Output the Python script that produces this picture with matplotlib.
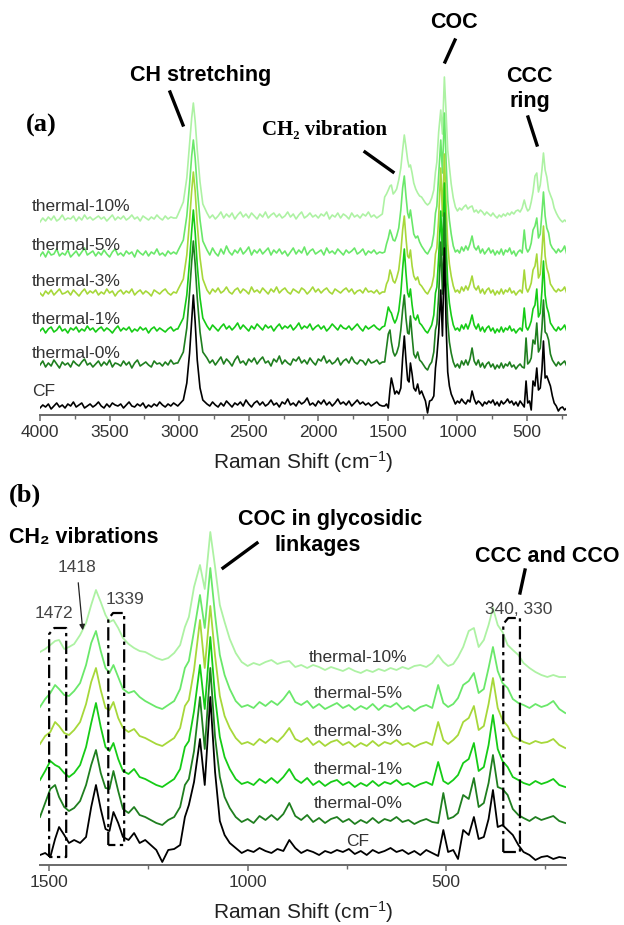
import numpy as np
import matplotlib.pyplot as plt
from matplotlib.lines import Line2D
from matplotlib.patches import FancyArrowPatch

plt.rcParams['font.family'] = ['Liberation Sans', 'DejaVu Sans']
plt.rcParams['mathtext.fontset'] = 'custom'
plt.rcParams['mathtext.rm'] = 'Liberation Sans'
plt.rcParams['mathtext.it'] = 'Liberation Sans:italic'
plt.rcParams['mathtext.bf'] = 'Liberation Sans:bold'

W, H = 624, 925

# ---------------- data ----------------
labels = ['CF', 'thermal-0%', 'thermal-1%', 'thermal-3%', 'thermal-5%', 'thermal-10%']
colors = ['#000000', '#1f7f1f', '#16cc16', '#a6d83a', '#6ae86a', '#adf2a3']

# high wavenumber part (panel a only), cm-1
left_x = list(range(4000, 3010, -20))
peak_x = [3010, 2970, 2945, 2925, 2910, 2898, 2885, 2870, 2850, 2830]
mid_x = list(range(2800, 1530, -20))

cf_left = [0, 3, 1, 4, -1, 2, 5, 1, 3, 0, 4, 2, 6, 1, 3, 5, 0, 2, 4, 1,
           3, 6, 2, 0, 4, 1, 5, 3, 2, 4, 0, 3, 6, 2, 1, 4, 2, 5, 0, 3,
           1, 4, 2, 6, 3, 1, 4, 2, 5, 3]
cf_peak = [2, 8, 25, 55, 88, 113, 86, 48, 20, 8]
cf_mid = [4, 2, 6, 3, 1, 5, 2, 7, 4, 1, 5, 3, 6, 2, 8, 4, 1, 5, 7, 3,
          6, 2, 4, 8, 3, 5, 1, 6, 4, 9, 3, 5, 2, 7, 4, 6, 10, 3, 5, 2,
          7, 4, 8, 3, 6, 2, 5, 9, 4, 6, 3, 7, 2, 5, 8, 4, 6, 3, 5, 2,
          4, 6, 3, 2]

t0_left = [3, 7, 1, 5, 2, 8, 4, 0, 6, 3, 5, 1, 7, 4, 2, 6, 9, 3, 5, 1,
           4, 7, 2, 6, 3, 8, 1, 5, 4, 2, 7, 3, 6, 0, 5, 8, 2, 4, 6, 3,
           1, 7, 4, 5, 2, 6, 3, 8, 4, 5]
t0_peak = [5, 16, 40, 76, 106, 127, 104, 70, 36, 16]
t0_mid = [10, 5, 8, 3, 7, 11, 4, 9, 6, 2, 8, 12, 5, 7, 3, 9, 6, 10, 4, 8,
          11, 5, 7, 2, 9, 6, 12, 4, 8, 5, 3, 9, 7, 11, 5, 8, 4, 10, 6, 3,
          9, 7, 12, 5, 8, 4, 6, 10, 3, 7, 9, 5, 11, 6, 4, 8, 7, 3, 9, 5,
          6, 8, 4, 6]

t1_left = [2, 5, 0, 4, 6, 1, 3, 7, 2, 4, 0, 5, 3, 6, 1, 4, 2, 7, 3, 5,
           1, 4, 6, 2, 5, 3, 0, 4, 7, 2, 5, 3, 6, 1, 4, 2, 6, 3, 5, 0,
           4, 6, 2, 5, 3, 1, 4, 6, 2, 4]
t1_peak = [4, 15, 38, 72, 102, 123, 101, 68, 35, 15]
t1_mid = [7, 3, 8, 5, 2, 6, 9, 4, 7, 3, 6, 10, 4, 8, 5, 2, 7, 4, 9, 6,
          3, 8, 5, 7, 2, 6, 9, 4, 7, 5, 8, 3, 6, 10, 4, 7, 5, 9, 3, 6,
          8, 4, 7, 2, 5, 9, 6, 3, 8, 5, 4, 7, 3, 6, 9, 5, 2, 7, 4, 6,
          8, 5, 3, 6]

t3_left = [3, 0, 5, 2, 6, 1, 4, 7, 2, 3, 5, 1, 6, 3, 0, 4, 7, 2, 5, 3,
           6, 1, 4, 2, 7, 3, 5, 0, 4, 6, 2, 5, 3, 7, 1, 4, 6, 2, 5, 3,
           0, 6, 4, 2, 5, 7, 3, 1, 4, 3]
t3_peak = [6, 17, 41, 76, 105, 124, 105, 72, 38, 17]
t3_mid = [6, 2, 7, 4, 8, 3, 5, 9, 4, 2, 6, 8, 3, 7, 5, 2, 9, 4, 6, 3,
          8, 5, 2, 7, 4, 9, 3, 6, 8, 4, 2, 7, 5, 3, 8, 6, 2, 5, 9, 4,
          7, 3, 6, 8, 4, 2, 7, 5, 3, 6, 8, 4, 7, 2, 5, 6, 3, 8, 4, 5,
          3, 6, 2, 4]

t5_left = [2, 6, 1, 7, 3, 4, 9, 2, 5, 3, 8, 1, 4, 7, 2, 6, 10, 3, 5, 7,
           2, 6, 3, 8, 4, 1, 6, 9, 3, 5, 2, 7, 4, 6, 1, 8, 5, 3, 7, 2,
           6, 4, 9, 3, 5, 2, 7, 4, 6, 4]
t5_peak = [7, 18, 42, 74, 102, 118, 100, 70, 38, 17]
t5_mid = [8, 3, 10, 5, 2, 9, 4, 12, 6, 3, 8, 5, 10, 4, 7, 11, 3, 8, 5, 9,
          4, 7, 10, 3, 8, 5, 9, 4, 7, 2, 6, 10, 4, 8, 5, 11, 3, 7, 9, 4,
          6, 8, 3, 10, 5, 7, 4, 9, 6, 3, 8, 5, 7, 10, 4, 6, 9, 3, 7, 5,
          8, 4, 6, 5]

t10_left = [0, 4, 1, 5, 2, 6, 1, 3, 7, 2, 4, 3, 6, 1, 5, 2, 7, 3, 5, 2,
            4, 6, 3, 5, 1, 4, 7, 2, 5, 3, 6, 2, 4, 7, 3, 5, 1, 6, 4, 2,
            5, 3, 7, 4, 2, 6, 3, 5, 4, 4]
t10_peak = [7, 20, 44, 78, 104, 119, 101, 72, 40, 18]
t10_mid = [9, 4, 7, 3, 6, 10, 4, 8, 5, 9, 3, 7, 10, 5, 8, 4, 9, 6, 3, 8,
           5, 10, 4, 7, 9, 5, 8, 4, 6, 10, 5, 8, 3, 7, 10, 4, 6, 9, 5, 7,
           4, 8, 6, 10, 3, 7, 5, 9, 4, 8, 6, 3, 9, 5, 7, 4, 8, 6, 10, 5,
           7, 4, 6, 8]

# fingerprint part (both panels), cm-1
fp_x = [1523, 1510, 1497, 1485, 1475, 1462, 1450, 1437, 1422, 1407,
        1394, 1382, 1370, 1358, 1348, 1338, 1326, 1314, 1300, 1286,
        1272, 1258, 1244, 1230, 1215, 1200, 1185, 1170, 1158, 1148,
        1135, 1120, 1108, 1094, 1082, 1070, 1058, 1045, 1030, 1015,
        1000, 985, 970, 955, 940, 925, 910, 895, 880, 865,
        850, 835, 820, 805, 790, 775, 760, 745, 730, 715,
        700, 685, 670, 655, 640, 625, 610, 595, 580, 565,
        550, 535, 520, 507, 495, 482, 470, 457, 443, 430,
        418, 405, 393, 382, 370, 358, 345, 332, 318, 305,
        290, 275, 260, 245, 230, 215, 200]

cf_fp = [2, 4, 0, 18, 30, 22, 14, 17, 14, 20,
         50, 72, 48, 28, 26, 45, 34, 20, 17, 24,
         14, 17, 12, 7, -5, 7, 8, 12, 40, 52,
         75, 118, 72, 160, 85, 36, 22, 14, 9, 4,
         7, 5, 9, 6, 4, 8, 6, 17, 9, 4,
         7, 5, 2, 6, 4, 7, 5, 8, 3, 6,
         2, 7, 4, 6, 9, 5, 7, 3, 6, 2,
         7, 4, 1, 27, 5, 7, -2, 27, 22, 40,
         18, 20, 38, 67, 30, 32, 27, 22, 12, 5,
         2, -3, 0, 1, -2, 0, -1]
t0_fp = [6, 20, 34, 38, 26, 16, 12, 15, 22, 38,
         58, 73, 50, 35, 34, 52, 32, 14, 10, 16,
         8, 6, 3, 0, -2, 3, 6, 16, 38, 44,
         72, 126, 74, 155, 86, 46, 26, 15, 6, 1,
         4, 0, 7, 3, 8, 3, 9, 20, 7, 3,
         8, 1, 5, 0, 4, 6, 1, 4, -1, 3,
         0, 5, 0, 4, 2, 6, 1, 3, -1, 2,
         4, 1, 0, 30, 4, 6, 10, 28, 24, 45,
         16, 20, 40, 68, 36, 34, 28, 14, 8, 5,
         2, 6, 3, 5, 7, 2, 0]
t1_fp = [7, 16, 26, 22, 20, 14, 10, 14, 22, 40,
         64, 84, 60, 40, 36, 44, 28, 16, 13, 18,
         10, 8, 5, 2, 0, 4, 8, 18, 40, 46,
         76, 122, 78, 150, 90, 50, 30, 18, 8, 3,
         5, 2, 8, 4, 9, 4, 10, 18, 8, 4,
         9, 2, 6, 1, 5, 7, 2, 5, 0, 4,
         1, 6, 1, 5, 3, 7, 2, 4, 0, 3,
         5, 2, 25, 6, 3, 7, 12, 24, 28, 44,
         16, 20, 42, 72, 38, 26, 20, 10, 7, 4,
         2, 6, 3, 5, 8, 2, 0]
t3_fp = [4, 12, 16, 26, 22, 15, 13, 18, 26, 44,
         66, 80, 58, 40, 38, 46, 30, 20, 16, 19,
         12, 10, 7, 4, 2, 6, 10, 20, 42, 48,
         78, 128, 80, 142, 92, 52, 32, 20, 10, 4,
         6, 3, 9, 5, 10, 6, 12, 20, 9, 6,
         10, 3, 7, 2, 6, 8, 3, 6, 1, 5,
         2, 7, 2, 6, 4, 8, 3, 5, 1, 4,
         6, 3, 26, 8, 4, 8, 13, 26, 30, 42,
         18, 22, 44, 70, 40, 28, 22, 12, 9, 6,
         4, 7, 5, 6, 9, 3, 0]
t5_fp = [6, 14, 20, 28, 24, 18, 17, 22, 30, 48,
         70, 82, 62, 45, 40, 48, 36, 24, 20, 22,
         16, 12, 9, 6, 4, 8, 12, 24, 45, 52,
         82, 118, 85, 145, 98, 58, 38, 24, 12, 6,
         8, 5, 11, 7, 12, 8, 14, 22, 11, 8,
         12, 5, 9, 4, 7, 10, 5, 8, 3, 7,
         4, 9, 3, 8, 6, 10, 4, 7, 2, 6,
         8, 5, 28, 10, 6, 9, 15, 28, 32, 40,
         20, 24, 45, 66, 42, 30, 25, 14, 10, 8,
         5, 9, 6, 8, 12, 4, 0]
t10_fp = [25, 28, 32, 36, 37, 28, 30, 33, 42, 54,
          72, 87, 75, 62, 55, 57, 49, 39, 33, 29,
          26, 25, 22, 19, 17, 19, 24, 32, 50, 60,
          90, 112, 88, 145, 110, 72, 55, 38, 24, 15,
          11, 14, 12, 15, 17, 13, 15, 16, 10, 12,
          9, 12, 10, 7, 10, 8, 6, 9, 6, 4,
          7, 5, 8, 6, 9, 7, 10, 8, 11, 12,
          10, 14, 22, 15, 11, 13, 20, 30, 46, 49,
          30, 37, 52, 69, 52, 45, 32, 27, 22, 14,
          9, 5, 2, 0, 2, 0, 0]

hi_series = [cf_left + cf_peak + cf_mid, t0_left + t0_peak + t0_mid,
             t1_left + t1_peak + t1_mid, t3_left + t3_peak + t3_mid,
             t5_left + t5_peak + t5_mid, t10_left + t10_peak + t10_mid]
fp_series = [cf_fp, t0_fp, t1_fp, t3_fp, t5_fp, t10_fp]
offset_a = [7, 47, 82, 119, 157, 193]
offset_b = [8, 42, 78, 117, 152, 188]

# dash-dot boxes in panel b: (left cm, right cm, top, bottom)
boxes = [(1500, 1457, 237, 8), (1351, 1311, 252, 20), (356, 314, 247, 13)]

hi_x = left_x + peak_x + mid_x
for s in hi_series:
    assert len(s) == len(hi_x), len(s)
for s in fp_series:
    assert len(s) == len(fp_x), len(s)


def fx(x):
    return x / W


def fy(y):
    return 1 - y / H


fig = plt.figure(figsize=(W / 100, H / 100), dpi=100)
ax_a = fig.add_axes([fx(40), fy(415), 526 / W, 355 / H])
ax_b = fig.add_axes([fx(40), fy(865), 526 / W, 345 / H])

xa = np.array(hi_x + fp_x)
xb = np.array(fp_x)
for i in range(5, -1, -1):
    ya = np.array(hi_series[i] + fp_series[i]) + offset_a[i]
    ax_a.plot(xa, ya, color=colors[i], lw=1.2)
    yb = np.array(fp_series[i]) + offset_b[i]
    ax_b.plot(xb, yb, color=colors[i], lw=1.3)

ax_a.set_xlim(4000, 220)
ax_a.set_ylim(0, 355)
ax_a.set_xticks(np.arange(4000, 499, -500))
ax_a.set_xticks(np.arange(3750, 200, -500), minor=True)
ax_b.set_xlim(1523, 198)
ax_b.set_ylim(0, 345)
ax_b.set_xticks([1500, 1000, 500])
ax_b.set_xticks([1250, 750, 250], minor=True)

for ax in (ax_a, ax_b):
    for sp in ('left', 'top', 'right'):
        ax.spines[sp].set_visible(False)
    ax.spines['bottom'].set_color('#6a6a6a')
    ax.spines['bottom'].set_linewidth(1.4)
    ax.set_yticks([])
    ax.tick_params(axis='x', which='major', length=4.5, width=1.1, color='#6a6a6a',
                   labelsize=12.5, labelcolor='#333333', pad=3)
    ax.tick_params(axis='x', which='minor', length=3, width=1.0, color='#6a6a6a')
    ax.set_xlabel('Raman Shift (cm$^{-1}$)', fontsize=15, color='#222222', labelpad=6)

for (xl, xr, top, bot) in boxes:
    xs = [xl, xl, xl - (xl - xr) * 0.3, xr, xr, xl]
    ys = [bot, top - 6, top, top, bot, bot]
    ax_b.plot(xs, ys, color='k', lw=1.6, linestyle=(0, (6, 2, 1.5, 2)))

# series labels
lab_a = [391, 353, 320, 282, 245, 207]
lab_b = [842, 803, 769, 732, 694, 658]
for i, lab in enumerate(labels):
    fig.text(fx(32), fy(lab_a[i]), lab, ha='left', va='center', fontsize=12.5, color='#333333')
    fig.text(fx(358), fy(lab_b[i]), lab, ha='center', va='center', fontsize=12.5, color='#333333')

serif = ['Liberation Serif', 'DejaVu Serif']
bold_kw = dict(ha='center', va='center', fontsize=15.5, fontweight='bold', color='k')

# panel a annotations
fig.text(fx(41), fy(125), '(a)', ha='center', va='center', fontsize=19,
         fontweight='bold', family=serif)
fig.text(fx(201), fy(75), 'CH stretching', **bold_kw)
fig.text(fx(324), fy(130), 'CH₂ vibration', ha='center', va='center', fontsize=15,
         fontweight='bold', family=serif)
fig.text(fx(454), fy(23), 'COC', **bold_kw)
fig.text(fx(529), fy(77), 'CCC', **bold_kw)
fig.text(fx(530), fy(102), 'ring', **bold_kw)

# panel b annotations
fig.text(fx(25), fy(495), '(b)', ha='center', va='center', fontsize=19,
         fontweight='bold', family=serif)
fig.text(fx(84), fy(537), 'CH₂ vibrations', **bold_kw)
fig.text(fx(330), fy(520), 'COC in glycosidic', **bold_kw)
fig.text(fx(318), fy(545), 'linkages', **bold_kw)
fig.text(fx(547), fy(557), 'CCC and CCO', **bold_kw)
for txt, x, y in [('1418', 77, 568), ('1472', 54, 613), ('1339', 125, 600), ('340, 330', 519, 609)]:
    fig.text(fx(x), fy(y), txt, ha='center', va='center', fontsize=12.5, color='#444444')

segs = [((170, 92), (183, 125)), ((365, 152), (393, 172)), ((455, 40), (445, 62)),
        ((528, 117), (537, 145)), ((257, 543), (223, 568)), ((525, 570), (520, 593))]
for (x1, y1), (x2, y2) in segs:
    fig.add_artist(Line2D([fx(x1), fx(x2)], [fy(y1), fy(y2)], color='k', lw=2.4))

fig.add_artist(FancyArrowPatch((fx(78), fy(580)), (fx(83), fy(633)), transform=fig.transFigure,
                               arrowstyle='-|>', mutation_scale=8, lw=0.9, color='#222222'))

fig.savefig('out.png', dpi=100)
